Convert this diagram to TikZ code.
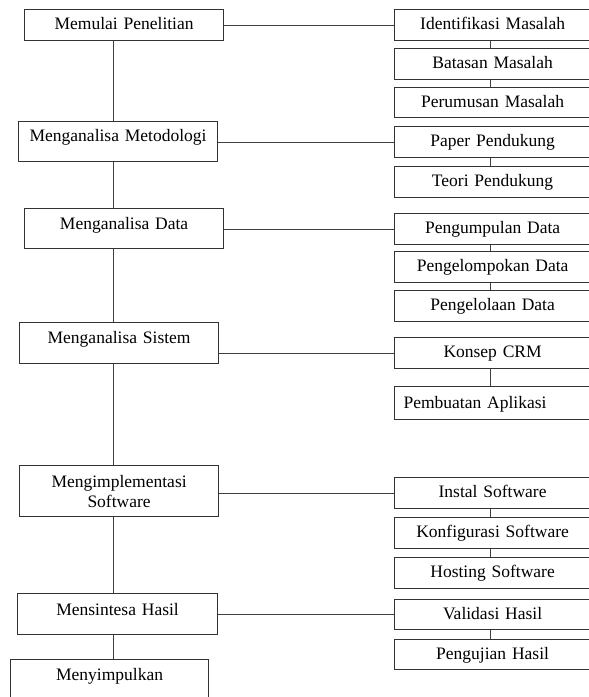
\documentclass[tikz,border=0pt]{standalone}
\usepackage{fontspec}
\setmainfont{Liberation Serif}
\begin{document}
\begin{tikzpicture}[x=1pt,y=-1pt,
  every node/.style={text=black},
  bx/.style={draw=black!80, line width=1.2pt, inner sep=0pt, anchor=north west,
    align=center, font=\fontsize{17.5}{19.5}\selectfont},
  dims/.style n args={3}{text width=#1, text height=#2, text depth=#3},
  link/.style={draw=black!75, line width=1pt}]
\useasboundingbox (0,0) rectangle (589,697);
\clip (0,0) rectangle (589,697);
\coordinate (lsp) at (113,0);
\coordinate (rsp) at (490,0);
% left column
\node[bx, dims={199pt}{20pt}{11pt}] (L1) at (24,9) {Memulai Penelitian};
\node[bx, dims={199pt}{20pt}{20pt}] (L2) at (18,121) {Menganalisa Metodologi};
\node[bx, dims={199pt}{21pt}{19pt}] (L3) at (24,208) {Menganalisa Data};
\node[bx, dims={199pt}{21pt}{20pt}] (L4) at (19,322) {Menganalisa Sistem};
\node[bx, dims={199pt}{22pt}{29pt}] (L5) at (19,465) {Mengimplementasi\\Software};
\node[bx, dims={200pt}{22pt}{19pt}] (L6) at (17,593) {Mensintesa Hasil};
\node[bx, dims={198pt}{21pt}{39pt}] (L7) at (10,659) {Menyimpulkan};
% right column
\node[bx, dims={196pt}{20pt}{11pt}] (R1) at (394,9) {Identifikasi Masalah};
\node[bx, dims={196pt}{20pt}{11pt}] (R2) at (394,48) {Batasan Masalah};
\node[bx, dims={196pt}{20pt}{10pt}] (R3) at (394,87) {Perumusan Masalah};
\node[bx, dims={196pt}{20pt}{11pt}] (R4) at (394,126) {Paper Pendukung};
\node[bx, dims={196pt}{20pt}{11pt}] (R5) at (394,166) {Teori Pendukung};
\node[bx, dims={196pt}{20pt}{11pt}] (R6) at (394,213) {Pengumpulan Data};
\node[bx, dims={196pt}{20pt}{11pt}] (R7) at (394,251) {Pengelompokan Data};
\node[bx, dims={196pt}{20pt}{11pt}] (R8) at (394,290) {Pengelolaan Data};
\node[bx, dims={196pt}{20pt}{11pt}] (R9) at (394,337) {Konsep CRM};
\node[bx, dims={178pt}{22pt}{11pt}, inner xsep=9pt, align=left] (R10) at (394,386) {Pembuatan Aplikasi};
\node[bx, dims={196pt}{20pt}{11pt}] (R11) at (394,477) {Instal Software};
\node[bx, dims={196pt}{20pt}{11pt}] (R12) at (394,517) {Konfigurasi Software};
\node[bx, dims={196pt}{20pt}{11pt}] (R13) at (394,557) {Hosting Software};
\node[bx, dims={196pt}{20pt}{10pt}] (R14) at (394,599) {Validasi Hasil};
\node[bx, dims={196pt}{20pt}{10pt}] (R15) at (394,639) {Pengujian Hasil};
% left spine
\foreach \a/\b in {L1/L2,L2/L3,L3/L4,L4/L5,L5/L6,L6/L7}
  \draw[link] (\a.south -| lsp) -- (\b.north -| lsp);
% right spines
\foreach \a/\b in {R1/R2,R2/R3,R4/R5,R6/R7,R7/R8,R9/R10,R11/R12,R12/R13,R14/R15}
  \draw[link] (\a.south -| rsp) -- (\b.north -| rsp);
% horizontal links
\draw[link] (R1.west -| L1.east) -- (R1.west);
\draw[link] (R4.west -| L2.east) -- (R4.west);
\draw[link] (R6.west -| L3.east) -- (R6.west);
\draw[link] (R9.west -| L4.east) -- (R9.west);
\draw[link] (R11.west -| L5.east) -- (R11.west);
\draw[link] (R14.west -| L6.east) -- (R14.west);
\end{tikzpicture}
\end{document}
